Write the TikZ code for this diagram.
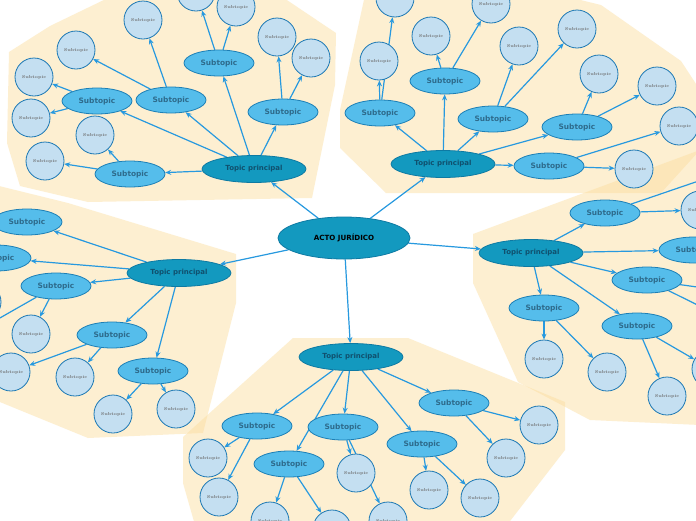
\documentclass[tikz,border=0pt]{standalone}
\usepackage{fontspec}
\newfontfamily\djv{DejaVu Sans}
\usetikzlibrary{shapes.geometric,arrows.meta}
\definecolor{cream}{HTML}{FCDEA0}
\definecolor{tpfill}{HTML}{1399BF}
\definecolor{tpdraw}{HTML}{0E7AA3}
\definecolor{subfill}{HTML}{55BDEB}
\definecolor{subdraw}{HTML}{1C7FB6}
\definecolor{cfill}{HTML}{C4DFF1}
\definecolor{cdraw}{HTML}{1C78B4}
\definecolor{edgec}{HTML}{2799DF}
\definecolor{tptext}{HTML}{10506E}
\definecolor{subtext}{HTML}{2E6B8C}
\definecolor{ctext}{HTML}{6E6E6E}
\pgfdeclarelayer{polys}
\pgfdeclarelayer{links}
\pgfsetlayers{polys,links,main}
\tikzset{
 region/.style={fill=cream, fill opacity=.48},
 central/.style={ellipse, fill=tpfill, draw=tpdraw, line width=.8pt, minimum width=132pt, minimum height=42pt, inner sep=0pt, font=\djv\bfseries\fontsize{7.1}{8}\selectfont, text=black},
 tp/.style={ellipse, fill=tpfill, draw=tpdraw, line width=.8pt, minimum width=104pt, minimum height=27pt, inner sep=0pt, font=\djv\bfseries\fontsize{7}{8}\selectfont, text=tptext},
 sub/.style={ellipse, fill=subfill, draw=subdraw, line width=.8pt, minimum width=70pt, minimum height=26pt, inner sep=0pt, font=\djv\bfseries\fontsize{7.4}{8}\selectfont, text=subtext},
 leaf/.style={circle, fill=cfill, draw=cdraw, line width=.8pt, minimum size=38pt, inner sep=0pt, font=\bfseries\fontsize{4.2}{5}\selectfont, text=ctext},
 conn/.style={draw=edgec, line width=1.2pt, -{Stealth[length=6pt,width=5pt]}},
}
\begin{document}
\begin{tikzpicture}[x=1pt,y=-1pt]
\useasboundingbox (0,0) rectangle (696,520);
\clip (0,0) rectangle (696,520);
% regions
\begin{pgfonlayer}{polys}
\fill[white] (0,0) rectangle (696,520);
\fill[region] (7,143) -- (9,52) -- (50,26) -- (110,-3) -- (260,-18) -- (336,33) -- (335,85) -- (312,198) -- (88,202) -- (20,186) -- cycle;
\fill[region] (365,-5) -- (340,110) -- (340,148) -- (386,193) -- (661,193) -- (700,150) -- (700,90) -- (681,61) -- (601,5) -- (560,-5) -- cycle;
\fill[region] (473,234) -- (700,150) -- (700,425) -- (590,420) -- (518,382) -- (473,283) -- cycle;
\fill[region] (-5,185) -- (68,203) -- (236,254) -- (236,303) -- (203,433) -- (88,438) -- (-5,400) -- cycle;
\fill[region] (293,338) -- (408,338) -- (565,402) -- (565,450) -- (507,525) -- (195,525) -- (183,483) -- (183,437) -- cycle;
\end{pgfonlayer}
% central
\node[central] (ctr) at (344,238) {ACTO JURÍDICO};
% top-left cluster
\node[tp] (tl) at (254,169) {Topic principal};
\node[sub] (tl1) at (219,63) {Subtopic};
\node[sub] (tl2) at (171,100) {Subtopic};
\node[sub] (tl3) at (97,101) {Subtopic};
\node[sub] (tl4) at (283,112) {Subtopic};
\node[sub] (tl5) at (130,174) {Subtopic};
\node[leaf] (tl1a) at (196,-8) {Subtopic};
\node[leaf] (tl1b) at (236,7) {Subtopic};
\node[leaf] (tl2a) at (143,20) {Subtopic};
\node[leaf] (tl2b) at (76,50) {Subtopic};
\node[leaf] (tl3a) at (34,77) {Subtopic};
\node[leaf] (tl3b) at (31,118) {Subtopic};
\node[leaf] (tl4a) at (277,37) {Subtopic};
\node[leaf] (tl4b) at (311,58) {Subtopic};
\node[leaf] (tl5a) at (95,135) {Subtopic};
\node[leaf] (tl5b) at (45,161) {Subtopic};
% top-right cluster
\node[tp] (tr) at (443,164) {Topic principal};
\node[sub] (tr1) at (380,113) {Subtopic};
\node[sub] (tr2) at (445,81) {Subtopic};
\node[sub] (tr3) at (493,119) {Subtopic};
\node[sub] (tr4) at (577,127) {Subtopic};
\node[sub] (tr5) at (549,166) {Subtopic};
\node[leaf] (tr1a) at (379,61) {Subtopic};
\node[leaf] (tr1b) at (395,-2) {Subtopic};
\node[leaf] (tr2a) at (431,36) {Subtopic};
\node[leaf] (tr2b) at (491,4) {Subtopic};
\node[leaf] (tr3a) at (519,46) {Subtopic};
\node[leaf] (tr3b) at (577,29) {Subtopic};
\node[leaf] (tr4a) at (599,74) {Subtopic};
\node[leaf] (tr4b) at (657,86) {Subtopic};
\node[leaf] (tr5a) at (679,126) {Subtopic};
\node[leaf] (tr5b) at (634,169) {Subtopic};
% right cluster
\node[tp] (rt) at (531,253) {Topic principal};
\node[sub] (rt1) at (605,213) {Subtopic};
\node[sub] (rt2) at (694,250) {Subtopic};
\node[sub] (rt3) at (647,280) {Subtopic};
\node[sub] (rt4) at (544,308) {Subtopic};
\node[sub] (rt5) at (637,326) {Subtopic};
\node[leaf] (rt1a) at (700,210) {Subtopic};
\node[leaf] (rt1b) at (760,160) {Subtopic};
\node[leaf] (rt3a) at (740,293) {Subtopic};
\node[leaf] (rt3b) at (730,321) {Subtopic};
\node[leaf] (rt4a) at (544,359) {Subtopic};
\node[leaf] (rt4b) at (607,372) {Subtopic};
\node[leaf] (rt5a) at (667,396) {Subtopic};
\node[leaf] (rt5b) at (711,369) {Subtopic};
% left cluster
\node[tp] (lt) at (179,273) {Topic principal};
\node[sub] (lt1) at (27,222) {Subtopic};
\node[sub] (lt2) at (-4,258) {Subtopic};
\node[sub] (lt3) at (56,286) {Subtopic};
\node[sub] (lt4) at (112,335) {Subtopic};
\node[sub] (lt5) at (153,371) {Subtopic};
\node[leaf] (lt2a) at (-18,302) {Subtopic};
\node[leaf] (lt3a) at (31,334) {Subtopic};
\node[leaf] (lt3b) at (-30,335) {Subtopic};
\node[leaf] (lt4a) at (11,372) {Subtopic};
\node[leaf] (lt4b) at (75,377) {Subtopic};
\node[leaf] (lt5a) at (113,414) {Subtopic};
\node[leaf] (lt5b) at (176,409) {Subtopic};
% bottom cluster
\node[tp] (bt) at (351,357) {Topic principal};
\node[sub] (bt1) at (257,426) {Subtopic};
\node[sub] (bt2) at (343,427) {Subtopic};
\node[sub] (bt3) at (289,464) {Subtopic};
\node[sub] (bt4) at (422,444) {Subtopic};
\node[sub] (bt5) at (454,403) {Subtopic};
\node[leaf] (bt1a) at (208,458) {Subtopic};
\node[leaf] (bt1b) at (219,497) {Subtopic};
\node[leaf] (bt2a) at (356,473) {Subtopic};
\node[leaf] (bt2b) at (388,521) {Subtopic};
\node[leaf] (bt3a) at (270,521) {Subtopic};
\node[leaf] (bt3b) at (332,529) {Subtopic};
\node[leaf] (bt4a) at (429,490) {Subtopic};
\node[leaf] (bt4b) at (480,498) {Subtopic};
\node[leaf] (bt5a) at (506,458) {Subtopic};
\node[leaf] (bt5b) at (539,425) {Subtopic};
% connectors
\begin{pgfonlayer}{links}
\foreach \a/\b in {ctr/tl,ctr/tr,ctr/rt,ctr/lt,ctr/bt,
 tl/tl1,tl/tl2,tl/tl3,tl/tl4,tl/tl5,tl1/tl1a,tl1/tl1b,tl2/tl2a,tl2/tl2b,tl3/tl3a,tl3/tl3b,tl4/tl4a,tl4/tl4b,tl5/tl5a,tl5/tl5b,
 tr/tr1,tr/tr2,tr/tr3,tr/tr4,tr/tr5,tr1/tr1a,tr1/tr1b,tr2/tr2a,tr2/tr2b,tr3/tr3a,tr3/tr3b,tr4/tr4a,tr4/tr4b,tr5/tr5a,tr5/tr5b,
 rt/rt1,rt/rt2,rt/rt3,rt/rt4,rt/rt5,rt1/rt1a,rt1/rt1b,rt3/rt3a,rt3/rt3b,rt4/rt4a,rt4/rt4b,rt5/rt5a,rt5/rt5b,
 lt/lt1,lt/lt2,lt/lt3,lt/lt4,lt/lt5,lt2/lt2a,lt3/lt3a,lt3/lt3b,lt4/lt4a,lt4/lt4b,lt5/lt5a,lt5/lt5b,
 bt/bt1,bt/bt2,bt/bt3,bt/bt4,bt/bt5,bt1/bt1a,bt1/bt1b,bt2/bt2a,bt2/bt2b,bt3/bt3a,bt3/bt3b,bt4/bt4a,bt4/bt4b,bt5/bt5a,bt5/bt5b}
 {\draw[conn] (\a) -- (\b);}
\end{pgfonlayer}
\end{tikzpicture}
\end{document}
